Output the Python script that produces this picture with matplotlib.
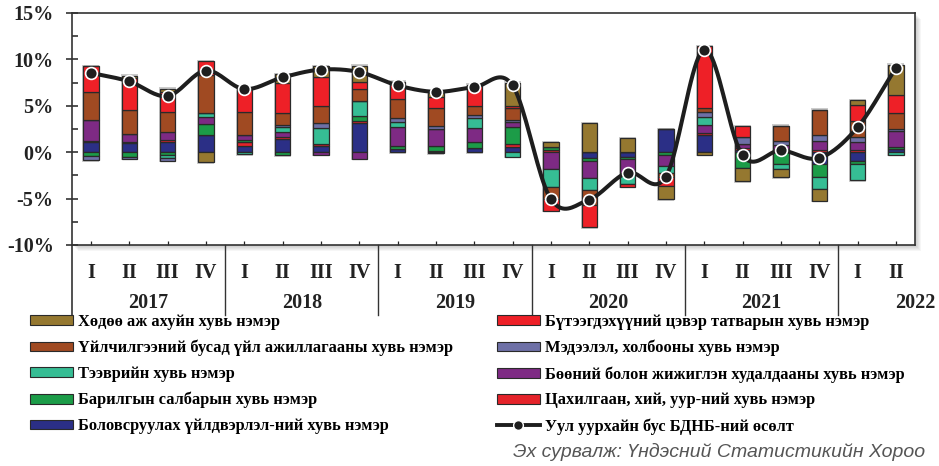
import numpy as np
import matplotlib
matplotlib.use("Agg")
import matplotlib.pyplot as plt
from matplotlib.patches import Rectangle
from matplotlib.lines import Line2D
from matplotlib.ticker import MultipleLocator, FuncFormatter

# quarters 2017 Q1 .. 2022 Q2
quarters = ["I", "II", "III", "IV"] * 5 + ["I", "II"]
years = ["2017", "2018", "2019", "2020", "2021", "2022"]

# contributions, percentage points (stack order bottom -> top)
manuf = [1.15, 0.95, 1.15, 1.8, 0.72, 1.45, 0.68, 3.15, 0.32, -0.1, 0.43, 0.6,
         0.0, -0.65, -0.5, 2.45, 1.87, 0.2, 0.35, -1.3, -0.9, 0.36]
elec = [0.1, 0.1, 0.18, 0.05, 0.36, 0.14, 0.18, 0.22, 0.05, 0.14, 0.0, 0.29,
        0.25, 0.0, 0.0, 0.0, 0.25, 0.25, 0.0, 0.25, 0.25, 0.0]
constr = [-0.45, -0.5, -0.3, 1.15, 0.25, -0.35, 0.05, 0.54, 0.29, 0.54, 0.72, 1.8,
          0.3, -0.25, -0.2, -0.35, 0.0, -1.69, -1.26, -1.37, -0.4, 0.15]
trade = [2.2, 0.95, 0.8, 0.8, 0.5, 0.58, -0.3, -0.72, 2.1, 1.83, 1.44, 0.6,
         -1.8, -1.9, -1.7, -1.15, 0.83, 0.47, 0.43, 1.0, 0.83, 1.73]
transport = [0.0, 0.0, -0.3, 0.45, -0.2, 0.5, 1.73, 1.62, 0.54, 0.0, 1.08, -0.47,
             -1.98, -1.26, -1.05, -0.7, 0.83, 0.0, -0.58, -1.33, -1.7, -0.25]
ict = [-0.4, -0.2, -0.3, 0.0, 0.0, 0.22, 0.54, 0.0, 0.43, 0.32, 0.36, 0.18,
       0.0, 0.0, 0.0, 0.0, 0.5, 0.68, 0.47, 0.61, 0.61, 0.25]
services = [3.0, 2.6, 2.2, 4.05, 2.5, 1.33, 1.8, 1.26, 2.05, 1.9, 0.9, 1.26,
            -1.26, -1.6, 0.0, -0.5, 0.47, 0.0, 1.62, 2.7, 1.62, 1.7]
taxes = [2.8, 3.35, 2.15, 1.5, 2.5, 3.25, 3.1, 0.76, 1.8, 1.26, 2.34, 0.25,
         -1.26, -2.45, -0.25, -0.9, 6.65, 1.19, 0.0, 0.0, 1.73, 2.0]
agri = [0.0, 0.3, 0.35, -1.1, 0.0, 0.95, 1.2, 1.76, 0.0, 0.36, 0.0, 2.52,
        0.55, 3.1, 1.5, -1.45, -0.29, -1.44, -0.86, -1.26, 0.54, 3.24]

# non-mining GDP growth, %
growth = [8.55, 7.63, 6.05, 8.8, 6.8, 8.06, 8.9, 8.64, 7.2, 6.5, 7.0, 7.2,
          -5.05, -5.1, -2.2, -2.65, 11.05, -0.35, 0.2, -0.63, 2.68, 9.07]

labels = {
    "agri": "Хөдөө аж ахуйн хувь нэмэр",
    "services": "Үйлчилгээний бусад үйл ажиллагааны хувь нэмэр",
    "transport": "Тээврийн хувь нэмэр",
    "constr": "Барилгын салбарын хувь нэмэр",
    "manuf": "Боловсруулах үйлдвэрлэл-ний хувь нэмэр",
    "taxes": "Бүтээгдэхүүний цэвэр татварын хувь нэмэр",
    "ict": "Мэдээлэл, холбооны хувь нэмэр",
    "trade": "Бөөний болон жижиглэн худалдааны хувь нэмэр",
    "elec": "Цахилгаан, хий, уур-ний хувь нэмэр",
    "growth": "Уул уурхайн бус БДНБ-ний өсөлт",
}

colors = {
    "manuf": "#2b2f86",
    "elec": "#e5232a",
    "constr": "#1c9c48",
    "trade": "#7e2a84",
    "transport": "#36bd94",
    "ict": "#6e70a6",
    "services": "#a04a22",
    "taxes": "#ee2027",
    "agri": "#957830",
}

series = [("manuf", manuf), ("elec", elec), ("constr", constr), ("trade", trade),
          ("transport", transport), ("ict", ict), ("services", services),
          ("taxes", taxes), ("agri", agri)]


def smooth(x, y, n=20):
    # catmull-rom curve through the points (like excel's smoothed line)
    x = np.asarray(x, float)
    y = np.asarray(y, float)
    px = np.concatenate([[2 * x[0] - x[1]], x, [2 * x[-1] - x[-2]]])
    py = np.concatenate([[2 * y[0] - y[1]], y, [2 * y[-1] - y[-2]]])
    xs, ys = [], []
    t = np.linspace(0, 1, n, endpoint=False)
    for i in range(1, len(px) - 2):
        for p, out in ((px, xs), (py, ys)):
            p0, p1, p2, p3 = p[i - 1], p[i], p[i + 1], p[i + 2]
            out.extend(0.5 * (2 * p1 + (-p0 + p2) * t
                              + (2 * p0 - 5 * p1 + 4 * p2 - p3) * t ** 2
                              + (-p0 + 3 * p1 - 3 * p2 + p3) * t ** 3))
    xs.append(x[-1])
    ys.append(y[-1])
    return np.array(xs), np.array(ys)


plt.rcParams["font.family"] = ["Liberation Serif", "DejaVu Serif"]
plt.rcParams["font.weight"] = "bold"

W, H = 939, 466
fig = plt.figure(figsize=(W / 100, H / 100), dpi=100)
L, R, T, B = 71.7, 915, 13, 245
ax = fig.add_axes([L / W, 1 - B / H, (R - L) / W, (B - T) / H])

# drop shadow of the plot frame
for k in range(1, 7):
    fig.patches.append(Rectangle(((L + k) / W, (H - B - k) / H), (R - L) / W, (B - T) / H,
                                 transform=fig.transFigure, facecolor="#000000",
                                 alpha=0.035, edgecolor="none", zorder=-5))

x = np.arange(len(growth))
width = 0.4

pos_total = np.zeros(len(x))
neg_total = np.zeros(len(x))
for key, vals in series:
    v = np.asarray(vals)
    pos_total += np.clip(v, 0, None)
    neg_total += np.clip(v, None, 0)

# soft grey halo around each bar
pad = 0.16
ax.bar(x, pos_total - neg_total + 2 * pad, bottom=neg_total - pad, width=width + 0.05,
       color="#9a9a9a", alpha=0.5, linewidth=0, zorder=1)

pos_bottom = np.zeros(len(x))
neg_bottom = np.zeros(len(x))
for key, vals in series:
    v = np.asarray(vals)
    bottom = np.where(v >= 0, pos_bottom, neg_bottom)
    ax.bar(x, v, bottom=bottom, width=width, color=colors[key],
           edgecolor="#2a2a2a", linewidth=0.9, zorder=2)
    pos_bottom += np.clip(v, 0, None)
    neg_bottom += np.clip(v, None, 0)

sx, sy = smooth(x, growth)
ax.plot(sx, sy, color="#1e1e1e", linewidth=2.9, zorder=3, solid_capstyle="round")
ax.plot(x, growth, linestyle="none", marker="o", markersize=8.5, markerfacecolor="#1e1e1e",
        markeredgecolor="white", markeredgewidth=1.2, zorder=4)

ax.set_xlim(-0.5, len(x) - 0.5)
ax.set_ylim(-10, 15)

ax.yaxis.set_major_locator(MultipleLocator(5))
ax.yaxis.set_minor_locator(MultipleLocator(2.5))
ax.yaxis.set_major_formatter(FuncFormatter(lambda v, p: "{:.0f}%".format(v)))
ax.tick_params(axis="y", which="major", direction="inout", length=8, width=1.1,
               pad=9, labelsize=14.5, colors="#222222")
ax.tick_params(axis="y", which="minor", direction="in", length=4.2, width=1.1, color="#222222")

ax.set_xticks(x)
ax.set_xticklabels(quarters)
ax.tick_params(axis="x", direction="in", length=3, width=0.9, pad=13,
               labelsize=14.5, colors="#222222")

for s in ax.spines.values():
    s.set_color("#333333")
    s.set_linewidth(1.2)

# year separators and labels under the axis
trans = ax.get_xaxis_transform()
sep_bottom = -(315 - B) / (B - T)
ax.plot([-0.5, -0.5], [0, sep_bottom], transform=trans, color="#333333",
        linewidth=1.2, clip_on=False)
for i, yr in enumerate(years):
    start = 4 * i
    if i > 0:
        ax.plot([start - 0.5, start - 0.5], [0, sep_bottom], transform=trans,
                color="#333333", linewidth=1.0, clip_on=False)
    ax.text(start + 1.5, -(303 - B) / (B - T), yr, transform=trans, ha="center",
            va="center", fontsize=14.5, fontweight="bold", color="#222222")

# legend, two columns
def patch(key):
    return Rectangle((0, 0), 1, 1, facecolor=colors[key], edgecolor="#2a2a2a", linewidth=0.8)


left_keys = ["agri", "services", "transport", "constr", "manuf"]
right_keys = ["taxes", "ict", "trade", "elec"]
line_handle = Line2D([], [], color="#1e1e1e", linewidth=2.8, marker="o", markersize=7,
                     markerfacecolor="#1e1e1e", markeredgecolor="white")

leg_kw = dict(loc="upper left", frameon=False, fontsize=11.8, handlelength=2.6,
              handleheight=0.55, handletextpad=0.35, labelspacing=0.6,
              borderpad=0, borderaxespad=0)
leg1 = fig.legend([patch(k) for k in left_keys], [labels[k] for k in left_keys],
                  bbox_to_anchor=(30 / W, 1 - 314 / H), **leg_kw)
leg2 = fig.legend([patch(k) for k in right_keys] + [line_handle],
                  [labels[k] for k in right_keys] + [labels["growth"]],
                  bbox_to_anchor=(497 / W, 1 - 314 / H), **leg_kw)

fig.text(925 / W, 1 - 452 / H, "Эх сурвалж: Үндэсний Статистикийн Хороо",
         ha="right", va="center", fontsize=14, style="italic", fontweight="normal",
         family=["Liberation Sans", "DejaVu Sans"], color="#555555")

fig.savefig("out.png", dpi=100)
plt.close(fig)
